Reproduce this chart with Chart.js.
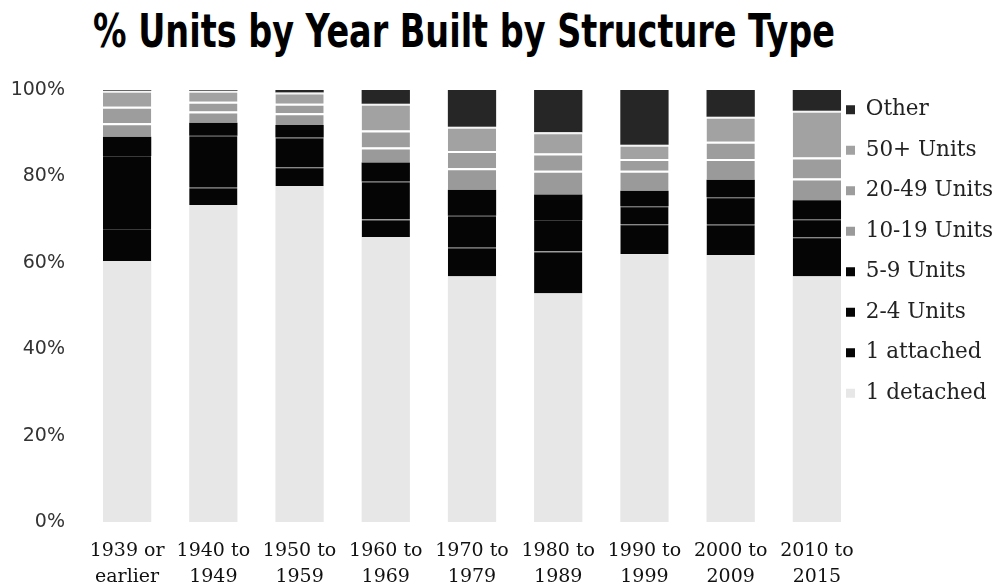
<!DOCTYPE html>
<html>
<head>
<meta charset="utf-8">
<script src="https://cdn.jsdelivr.net/npm/chart.js@4.4.1/dist/chart.umd.min.js"></script>
<style>
  html, body { margin: 0; padding: 0; background: #fff; }
  #wrap { position: relative; width: 1006px; height: 588px; }
  #title {
    position: absolute; top: 8px; left: 93px;
    font-family: "Liberation Sans Narrow", "DejaVu Sans Condensed", sans-serif;
    font-weight: bold; font-size: 46px; line-height: 46px;
    color: #000; white-space: nowrap; transform-origin: 0 0;
  }
  canvas { position: absolute; top: 0; left: 0; }
</style>
</head>
<body>
<div id="wrap">
  <div id="title">% Units by Year Built by Structure Type</div>
  <canvas id="chart" width="1006" height="588"></canvas>
</div>
<script>
// year-built groups
const periods = [
  ['1939 or', 'earlier'], ['1940 to', '1949'], ['1950 to', '1959'],
  ['1960 to', '1969'], ['1970 to', '1979'], ['1980 to', '1989'],
  ['1990 to', '1999'], ['2000 to', '2009'], ['2010 to', '2015']
];

// share of units (%) by structure type
const detached    = [60.4, 73.4, 77.8, 66.0, 56.8, 52.9, 62.0, 61.8, 56.8];
const attached    = [7.4, 4.0, 4.3, 4.0, 6.7, 9.7, 6.9, 7.0, 9.1];
const units2to4   = [16.9, 12.0, 6.9, 8.8, 7.4, 7.3, 4.2, 6.4, 4.2];
const units5to9   = [4.5, 3.0, 2.9, 4.4, 6.0, 5.9, 3.6, 4.0, 4.4];
const units10to19 = [3.1, 2.6, 2.7, 3.5, 5.0, 5.5, 4.6, 4.8, 5.0];
const units20to49 = [3.8, 2.3, 2.2, 3.9, 4.0, 4.0, 2.7, 4.0, 4.9];
const units50plus = [3.7, 2.5, 2.6, 6.2, 5.6, 4.9, 3.3, 5.8, 10.8];
const other       = [0.2, 0.2, 0.6, 3.2, 8.5, 9.8, 12.7, 6.2, 4.8];

const yTicks = [0, 20, 40, 60, 80, 100];

// fit title width to the reference
const title = document.getElementById('title');
title.style.transform = 'scaleX(' + (742 / title.getBoundingClientRect().width) + ')';

function seg(label, data, color, line, lineW) {
  return {
    label, data,
    backgroundColor: color,
    borderColor: line,
    borderWidth: { top: lineW, bottom: 0, left: 0, right: 0 },
    borderSkipped: false
  };
}

// legend sits partly over the plot's right margin, like the original
const legendNudge = {
  id: 'legendNudge',
  afterLayout(chart) {
    const lg = chart.legend;
    lg.left -= 33;
    lg.top -= 10; lg.bottom -= 10;
  }
};

const serif = '"DejaVu Serif", serif';

new Chart(document.getElementById('chart'), {
  type: 'bar',
  data: {
    labels: periods,
    datasets: [
      seg('1 detached', detached, '#e7e7e7', '#e7e7e7', 0),
      seg('1 attached', attached, '#050505', '#3a3a3a', 1),
      seg('2-4 Units', units2to4, '#050505', '#3a3a3a', 1),
      seg('5-9 Units', units5to9, '#050505', '#050505', 0),
      seg('10-19 Units', units10to19, '#9a9a9a', '#ffffff', 2),
      seg('20-49 Units', units20to49, '#9d9d9d', '#ffffff', 2),
      seg('50+ Units', units50plus, '#a2a2a2', '#f4f4f4', 2),
      seg('Other', other, '#262626', '#262626', 0)
    ]
  },
  plugins: [legendNudge],
  options: {
    responsive: false,
    animation: false,
    layout: { padding: { top: 90, left: 0, right: 0, bottom: 0 } },
    datasets: { bar: { barPercentage: 0.56, categoryPercentage: 1 } },
    scales: {
      x: {
        stacked: true,
        afterFit: s => { s.height = 66; },
        grid: { display: false, drawTicks: false },
        border: { display: false },
        ticks: {
          color: '#111', padding: 17, maxRotation: 0,
          font: { family: serif, size: 19, lineHeight: 1.32 }
        }
      },
      y: {
        stacked: true,
        min: 0, max: 100,
        afterFit: s => { s.width = 84; },
        afterBuildTicks: axis => { axis.ticks = yTicks.map(v => ({ value: v })); },
        grid: { display: false, drawTicks: false },
        border: { display: false },
        ticks: {
          color: '#333', padding: 19,
          font: { family: '"DejaVu Sans", sans-serif', size: 19 },
          callback: v => v + '%'
        }
      }
    },
    plugins: {
      tooltip: { enabled: false },
      legend: {
        position: 'right',
        align: 'start',
        reverse: true,
        maxWidth: 146,
        labels: {
          color: '#222', boxWidth: 9, boxHeight: 9, padding: 19,
          font: { family: serif, size: 21.5, lineHeight: 1.2 },
          generateLabels: chart => Chart.defaults.plugins.legend.labels.generateLabels(chart)
            .map(item => Object.assign(item, { lineWidth: 0, strokeStyle: 'transparent' }))
        }
      }
    }
  }
});
</script>
</body>
</html>
